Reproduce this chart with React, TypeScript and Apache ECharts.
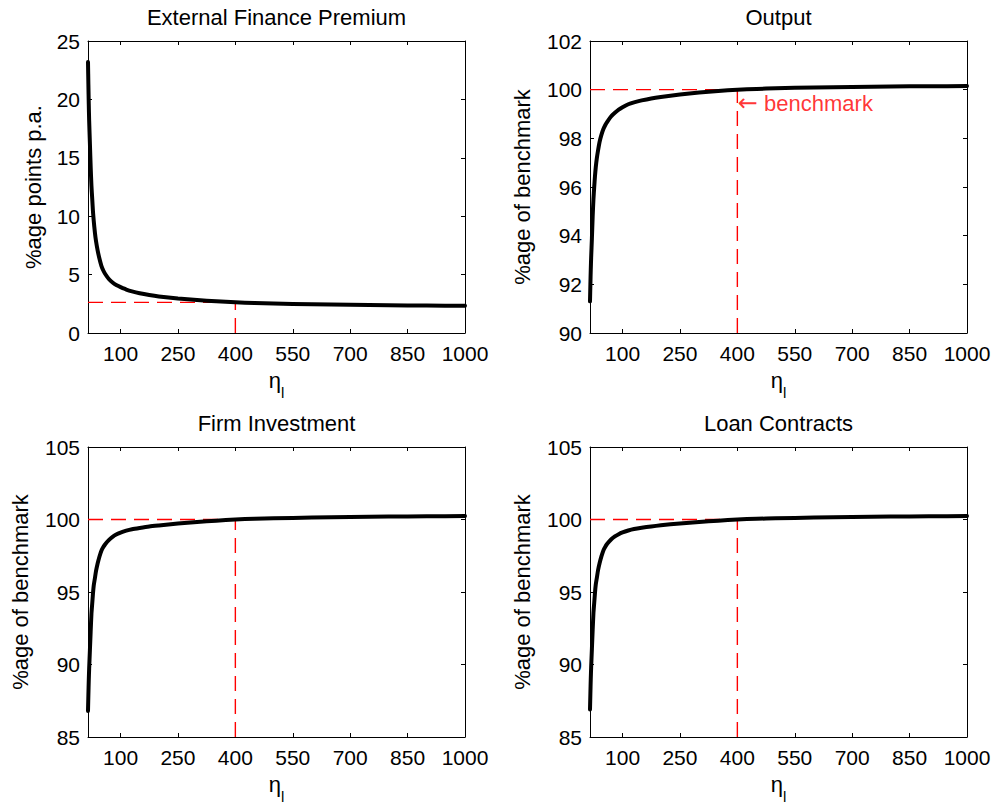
import React, { useEffect, useRef } from "react";
import * as echarts from "echarts";

// ---- data ----
const etaValues = [15, 16, 17, 18, 20, 22, 24, 26, 28, 30, 33, 36, 40, 45, 50, 55, 60, 70, 80, 90, 100, 115, 130, 150, 175, 200, 250, 300, 350, 400, 450, 500, 600, 700, 800, 900, 1000];
const premiumValues = [23.2, 21.3, 19.6, 18.2, 16.2, 14.2, 12.6, 11.5, 10.4, 9.6, 8.6, 7.85, 7.1, 6.35, 5.75, 5.35, 5.05, 4.6, 4.3, 4.08, 3.93, 3.72, 3.56, 3.4, 3.25, 3.13, 2.95, 2.82, 2.71, 2.63, 2.57, 2.52, 2.46, 2.41, 2.38, 2.35, 2.33];
const outputValues = [91.3, 92.0, 92.6, 93.1, 93.9, 94.8, 95.5, 96.0, 96.45, 96.8, 97.2, 97.5, 97.85, 98.15, 98.38, 98.55, 98.68, 98.9, 99.05, 99.18, 99.28, 99.4, 99.48, 99.56, 99.64, 99.7, 99.8, 99.88, 99.95, 100.0, 100.03, 100.06, 100.09, 100.11, 100.13, 100.14, 100.15];
const investmentValues = [86.8, 87.9, 88.9, 89.7, 91.0, 92.3, 93.5, 94.2, 94.9, 95.45, 95.95, 96.45, 96.95, 97.45, 97.85, 98.1, 98.3, 98.6, 98.82, 98.98, 99.1, 99.23, 99.33, 99.42, 99.52, 99.59, 99.72, 99.83, 99.92, 100.0, 100.05, 100.08, 100.13, 100.17, 100.2, 100.22, 100.24];
const loanValues = [86.9, 88.0, 89.0, 89.8, 91.1, 92.4, 93.55, 94.25, 94.95, 95.5, 96.0, 96.5, 96.98, 97.47, 97.87, 98.12, 98.32, 98.62, 98.83, 98.99, 99.11, 99.24, 99.34, 99.43, 99.52, 99.6, 99.73, 99.83, 99.92, 100.0, 100.05, 100.08, 100.13, 100.17, 100.2, 100.22, 100.24];

const panelTitles = ["External Finance Premium", "Output", "Firm Investment", "Loan Contracts"];
const panelYNames = ["%age points p.a.", "%age of benchmark", "%age of benchmark", "%age of benchmark"];
const panelSeries = [premiumValues, outputValues, investmentValues, loanValues];
const panelYMin = [0, 90, 85, 85];
const panelYMax = [25, 102, 105, 105];
const panelYStep = [5, 2, 5, 5];
const benchmarkEta = 400;
const benchmarkLevels = [2.62, 100, 100, 100];
const xTickValues = [100, 250, 400, 550, 700, 850, 1000];
const xMin = 15;
const xMax = 1000;
const benchmarkArrow = "←";
const benchmarkWord = "benchmark";
const benchmarkTextPoint = [400, 99.45];

// ---- layout ----
const FONT = "Liberation Sans, Arial, Helvetica, sans-serif";
const grids = [
  { left: 88, top: 41, width: 377, height: 292 },
  { left: 590, top: 41, width: 377, height: 292 },
  { left: 88, top: 447, width: 377, height: 290 },
  { left: 590, top: 447, width: 377, height: 290 },
];
const yNameGaps = [44, 57, 57, 57];

export default function App() {
  const ref = useRef<HTMLDivElement>(null);

  useEffect(() => {
    if (!ref.current) return;
    const chart = echarts.init(ref.current, null, { renderer: "svg" });

    const xAxes: any[] = [];
    const yAxes: any[] = [];
    const series: any[] = [];
    const graphics: any[] = [];

    grids.forEach((g, i) => {
      ["bottom", "top"].forEach((pos) => {
        const main = pos === "bottom";
        xAxes.push({
          type: "value",
          gridIndex: i,
          position: pos,
          min: xMin,
          max: xMax,
          name: main ? "{e|η}{s|l}" : "",
          nameLocation: "middle",
          nameGap: 28,
          nameTextStyle: {
            color: "#000",
            fontFamily: FONT,
            rich: {
              e: { fontSize: 22, fontFamily: FONT, color: "#000" },
              s: { fontSize: 15, fontFamily: FONT, color: "#000", padding: [24, 0, 0, 0] },
            },
          },
          axisLine: { show: true, onZero: false, lineStyle: { color: "#000", width: 1 } },
          axisTick: { show: true, inside: true, length: 4, customValues: xTickValues, lineStyle: { color: "#000", width: 1 } },
          axisLabel: {
            show: main,
            customValues: xTickValues,
            margin: 10,
            fontSize: 21,
            color: "#000",
            fontFamily: FONT,
            formatter: (v: number) => String(v),
          },
          splitLine: { show: false },
        });
      });
      ["left", "right"].forEach((pos) => {
        const main = pos === "left";
        yAxes.push({
          type: "value",
          gridIndex: i,
          position: pos,
          min: panelYMin[i],
          max: panelYMax[i],
          interval: panelYStep[i],
          name: main ? panelYNames[i] : "",
          nameLocation: "middle",
          nameRotate: 90,
          nameGap: yNameGaps[i],
          nameTextStyle: { color: "#000", fontFamily: FONT, fontSize: 22 },
          axisLine: { show: true, onZero: false, lineStyle: { color: "#000", width: 1 } },
          axisTick: { show: true, inside: true, length: 4, lineStyle: { color: "#000", width: 1 } },
          axisLabel: {
            show: main,
            margin: 8,
            fontSize: 21,
            color: "#000",
            fontFamily: FONT,
            formatter: (v: number) => String(v),
          },
          splitLine: { show: false },
        });
      });

      const b = benchmarkLevels[i];
      const dashStyle = { color: "#ff0000", width: 1.4, type: [15, 8] };
      series.push({
        type: "line",
        xAxisIndex: 2 * i,
        yAxisIndex: 2 * i,
        data: [[xMin, b], [benchmarkEta, b]],
        symbol: "none",
        lineStyle: dashStyle,
        z: 1,
        silent: true,
      });
      series.push({
        type: "line",
        xAxisIndex: 2 * i,
        yAxisIndex: 2 * i,
        data: [[benchmarkEta, panelYMin[i]], [benchmarkEta, b]],
        symbol: "none",
        lineStyle: dashStyle,
        z: 1,
        silent: true,
      });
      series.push({
        type: "line",
        xAxisIndex: 2 * i,
        yAxisIndex: 2 * i,
        data: etaValues.map((x, k) => [x, panelSeries[i][k]]),
        symbol: "none",
        smooth: 0.2,
        lineStyle: { color: "#000", width: 4, join: "round", cap: "round" },
        z: 3,
        silent: true,
      });

      graphics.push({
        type: "text",
        x: g.left + g.width / 2,
        y: i < 2 ? 17 : 423,
        style: {
          text: panelTitles[i],
          fill: "#000",
          fontSize: 22,
          fontFamily: FONT,
          textAlign: "center",
          textVerticalAlign: "middle",
        },
      });
    });

    series.push({
      type: "scatter",
      xAxisIndex: 2,
      yAxisIndex: 2,
      data: [benchmarkTextPoint],
      symbolSize: 1,
      itemStyle: { color: "rgba(0,0,0,0)" },
      label: {
        show: true,
        formatter: "{a|" + benchmarkArrow + "}{t| " + benchmarkWord + "}",
        position: "right",
        distance: 0,
        color: "#ff0000",
        rich: {
          a: { fontSize: 24, fontFamily: "DejaVu Sans", color: "#ff0000" },
          t: { fontSize: 22, fontFamily: FONT, color: "#ff0000" },
        },
      },
      z: 5,
      silent: true,
    });

    chart.setOption({
      animation: false,
      backgroundColor: "#fff",
      grid: grids.map((g) => ({ ...g, containLabel: false, outerBoundsMode: "none" })),
      xAxis: xAxes,
      yAxis: yAxes,
      series,
      graphic: graphics,
    });

    return () => chart.dispose();
  }, []);

  return (
    <div
      ref={ref}
      style={{ position: "absolute", left: 0, top: 0, width: 994, height: 804, background: "#fff" }}
    />
  );
}
